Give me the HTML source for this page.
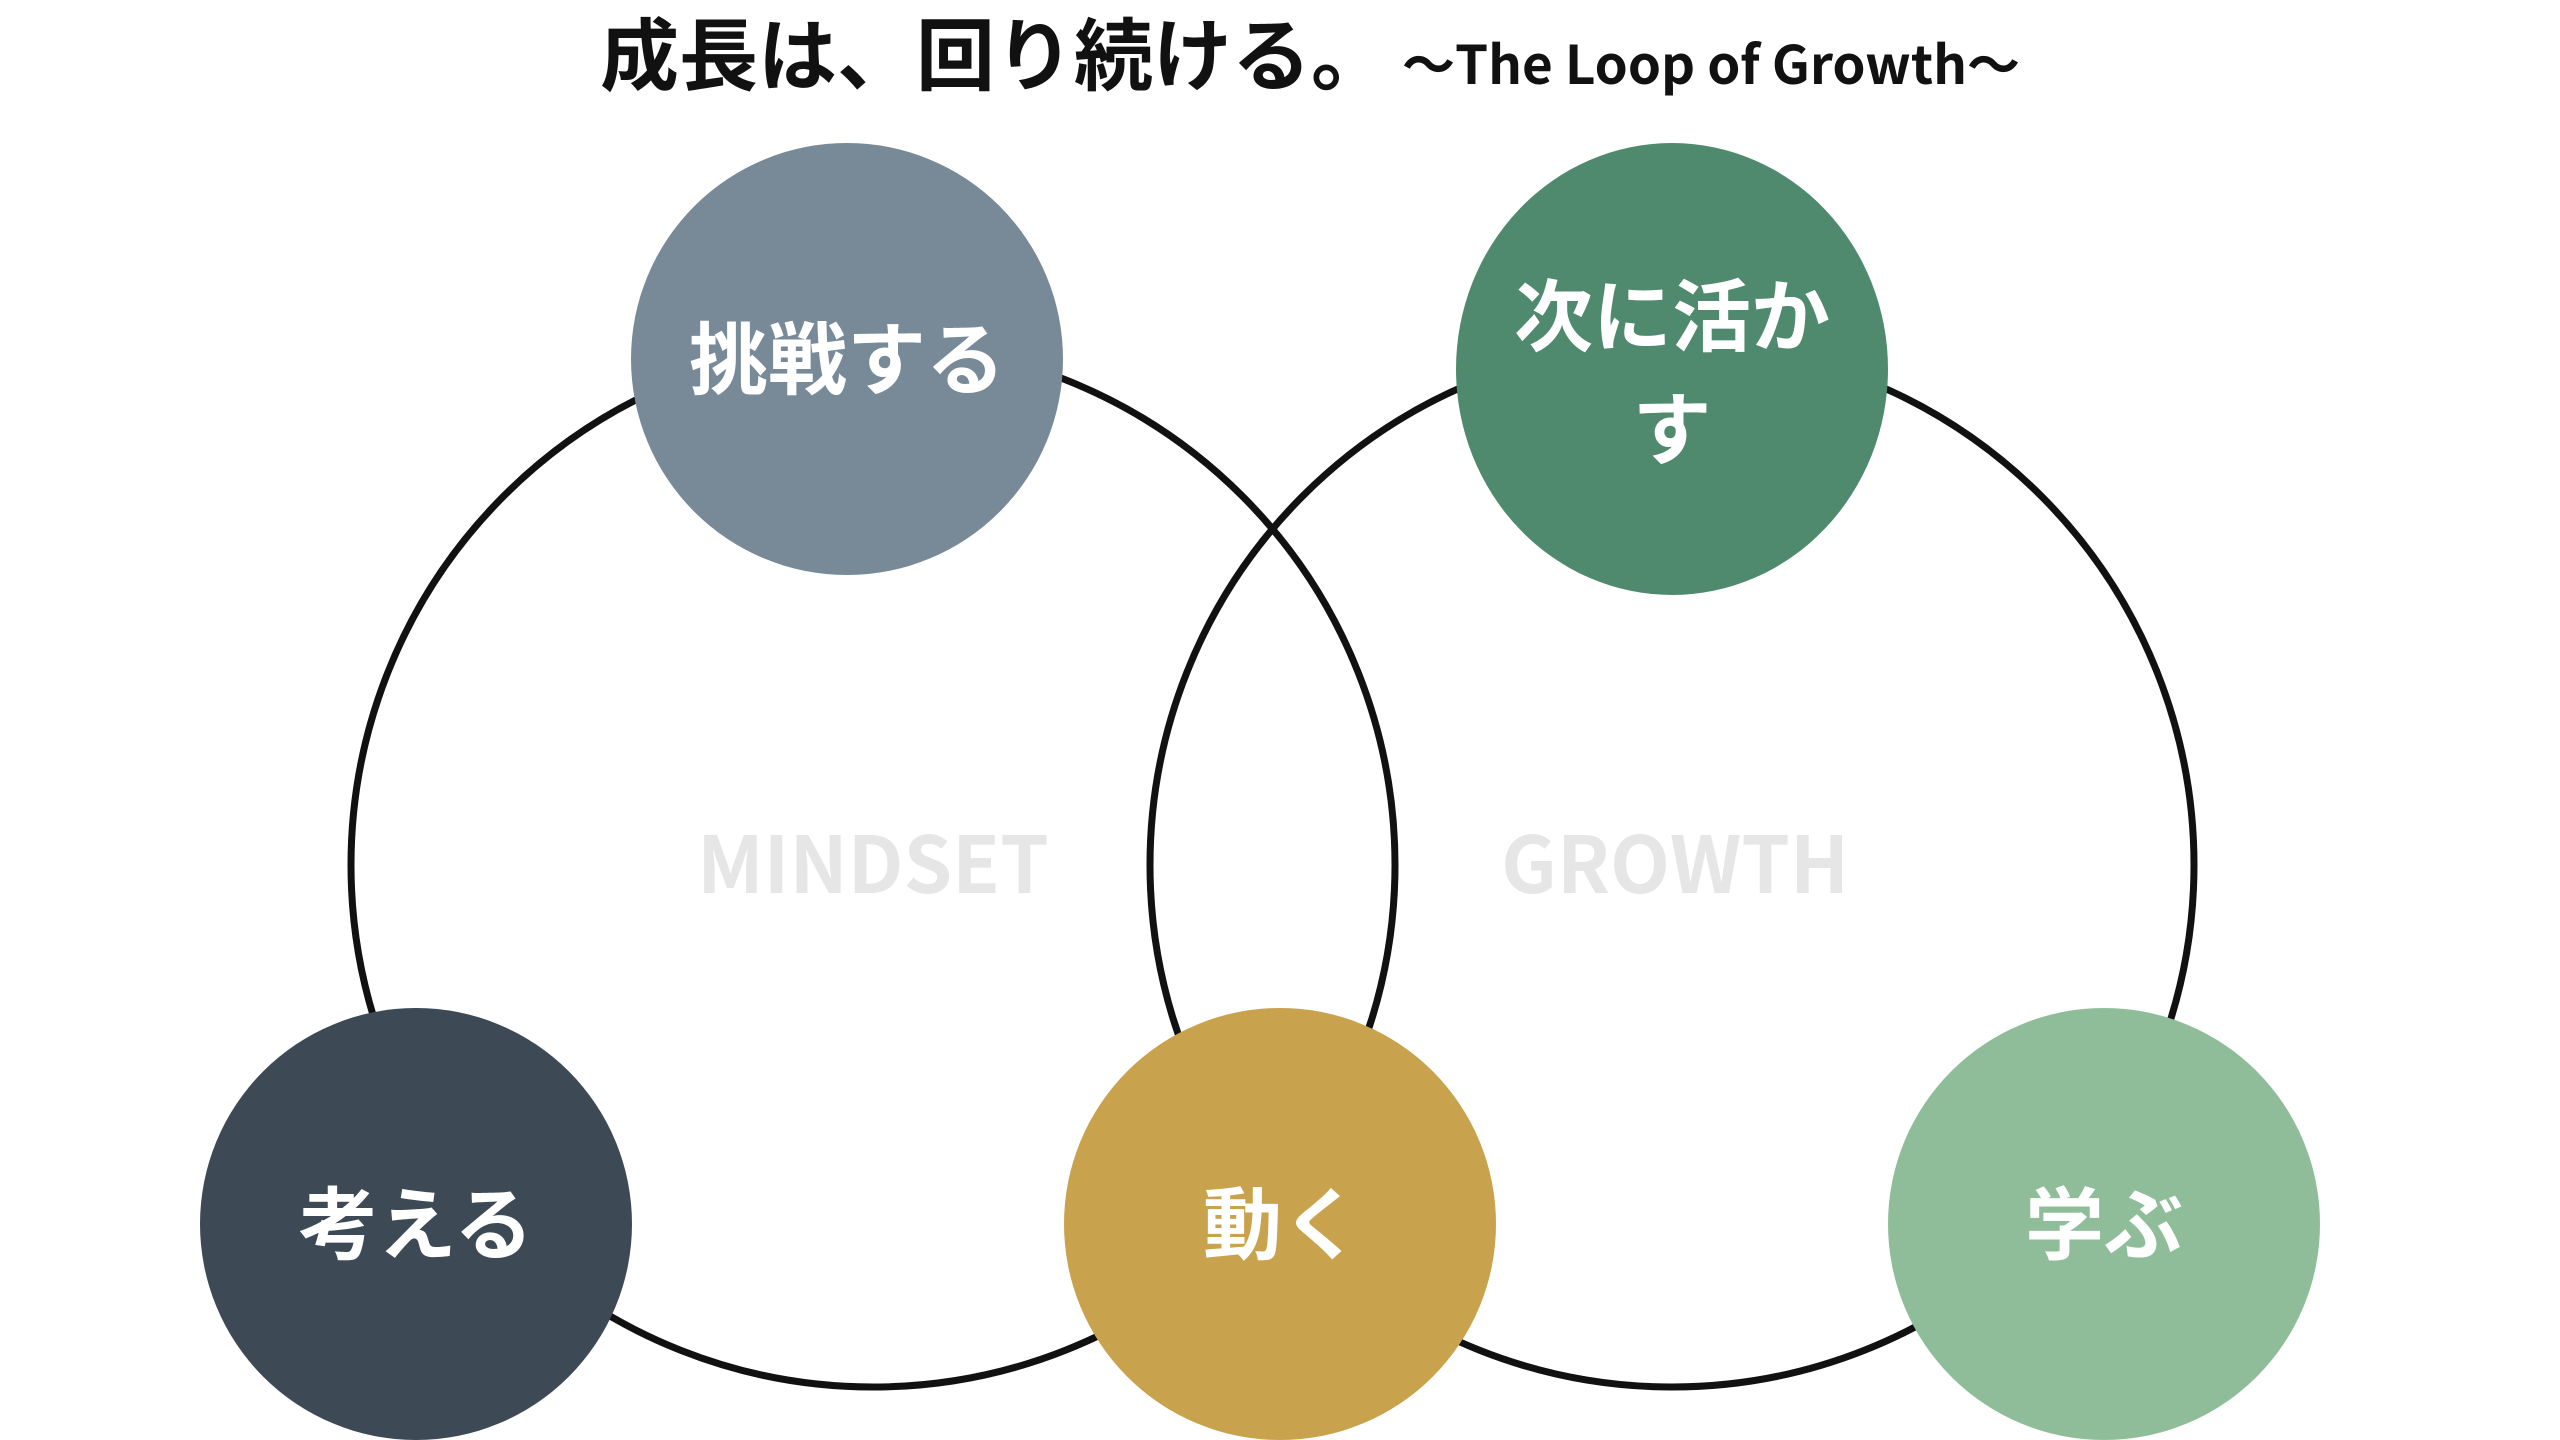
<!DOCTYPE html>
<html><head><meta charset="utf-8"><style>
html,body{margin:0;padding:0;background:#fff;width:2560px;height:1440px;overflow:hidden}
svg{display:block}
text{font-family:"Liberation Sans","Noto Sans CJK JP",sans-serif;font-weight:bold}
</style></head><body>
<svg width="2560" height="1440" viewBox="0 0 2560 1440">
<rect width="2560" height="1440" fill="#fff"/>
<text x="1310" y="84" text-anchor="middle" font-size="79" fill="#111">成長は、回り続ける。<tspan font-size="53" font-family="'Noto Sans CJK JP',sans-serif"> 〜The Loop of Growth〜</tspan></text>
<circle cx="873" cy="865" r="522" fill="none" stroke="#111" stroke-width="7"/>
<circle cx="1672" cy="865" r="522" fill="none" stroke="#111" stroke-width="7"/>
<text x="873" y="893" text-anchor="middle" font-size="78" fill="#e6e6e6" style="font-family:'Noto Sans CJK JP',sans-serif">MINDSET</text>
<text x="1675" y="893" text-anchor="middle" font-size="78" fill="#e6e6e6" style="font-family:'Noto Sans CJK JP',sans-serif">GROWTH</text>
<circle cx="847" cy="359" r="216" fill="#788a98"/>
<ellipse cx="1672" cy="369" rx="216" ry="226" fill="#4f8a6e"/>
<circle cx="416" cy="1224" r="216" fill="#3d4a56"/>
<circle cx="1280" cy="1224" r="216" fill="#c8a24c"/>
<circle cx="2104" cy="1224" r="216" fill="#8fbd9a"/>
<g fill="#fff" font-size="79" text-anchor="middle">
<text x="847" y="388">挑戦する</text>
<text x="1672" y="345">次に活か</text>
<text x="1672" y="458">す</text>
<text x="416" y="1253">考える</text>
<text x="1282" y="1253">動く</text>
<text x="2104" y="1253">学ぶ</text>
</g>
</svg>
</body></html>
